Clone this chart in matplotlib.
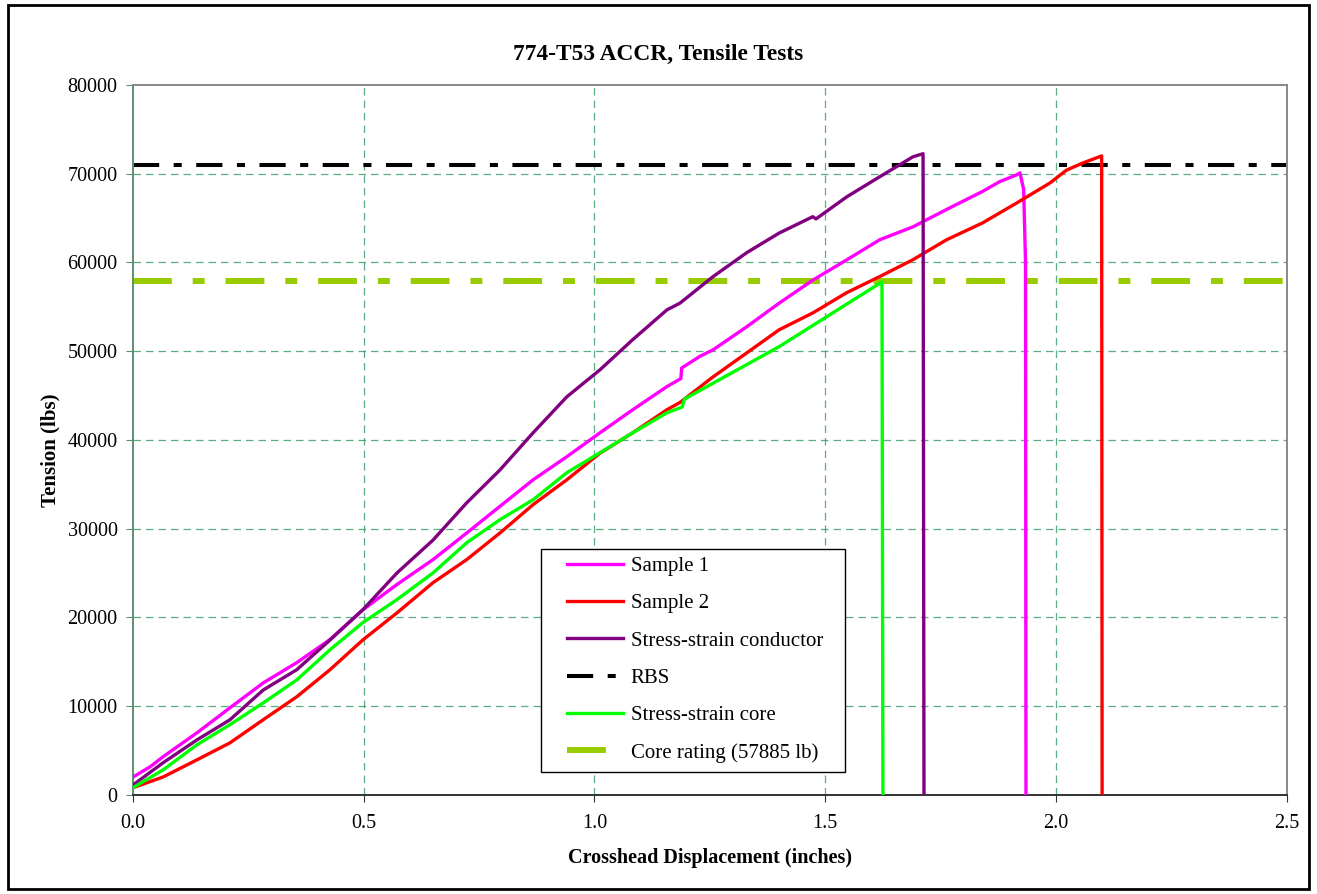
import matplotlib.pyplot as plt
from matplotlib.patches import Rectangle

plt.rcParams['font.family'] = ['Liberation Serif', 'DejaVu Serif']

# Sample 1 (magenta)
s1_x = [0.0, 0.037, 0.065, 0.139, 0.21, 0.282, 0.355, 0.427, 0.498, 0.572, 0.65,
        0.723, 0.795, 0.867, 0.94, 1.012, 1.083, 1.157, 1.187, 1.189, 1.228, 1.257,
        1.33, 1.40, 1.473, 1.547, 1.618, 1.69, 1.727, 1.77, 1.841, 1.878, 1.915,
        1.922, 1.93, 1.934, 1.935]
s1_y = [2000, 3150, 4280, 7000, 9800, 12600, 14900, 17500, 20850, 23700, 26500,
        29500, 32500, 35500, 38100, 40800, 43400, 46000, 46900, 48100, 49400, 50150,
        52750, 55400, 58000, 60300, 62550, 64000, 65000, 66150, 68000, 69100, 69870,
        70100, 68200, 60000, 0]

# Sample 2 (red)
s2_x = [0.0, 0.065, 0.139, 0.21, 0.282, 0.355, 0.427, 0.498, 0.572, 0.65, 0.723,
        0.795, 0.867, 0.94, 1.012, 1.083, 1.157, 1.185, 1.257, 1.33, 1.40, 1.473,
        1.547, 1.618, 1.69, 1.763, 1.841, 1.915, 1.987, 2.023, 2.058, 2.099, 2.1]
s2_y = [800, 2000, 3950, 5850, 8450, 11050, 14100, 17450, 20500, 23900, 26500,
        29500, 32700, 35500, 38500, 40800, 43400, 44200, 47100, 49800, 52400, 54300,
        56600, 58400, 60300, 62550, 64450, 66700, 68950, 70400, 71200, 72000, 0]

# Stress-strain conductor (purple)
sc_x = [0.0, 0.065, 0.139, 0.21, 0.282, 0.355, 0.427, 0.498, 0.572, 0.65, 0.723,
        0.795, 0.867, 0.94, 1.012, 1.083, 1.157, 1.185, 1.257, 1.33, 1.40, 1.473,
        1.48, 1.547, 1.618, 1.655, 1.69, 1.712, 1.714]
sc_y = [1100, 3600, 6200, 8450, 11800, 14100, 17450, 20850, 25000, 28700, 32900,
        36600, 40800, 44850, 47900, 51300, 54650, 55400, 58400, 61100, 63300, 65150,
        64900, 67400, 69650, 70800, 71900, 72250, 0]

# Stress-strain core (green)
core_x = [0.0, 0.065, 0.139, 0.21, 0.282, 0.355, 0.427, 0.498, 0.572, 0.65, 0.723,
          0.795, 0.867, 0.94, 1.012, 1.083, 1.157, 1.19, 1.195, 1.40, 1.623, 1.625]
core_y = [800, 2800, 5650, 7900, 10350, 12950, 16350, 19400, 22000, 25000, 28400,
          31000, 33250, 36300, 38550, 40800, 43050, 43700, 44600, 50500, 57800, 0]

rbs = 71000
core_rating = 57885

fig = plt.figure(figsize=(13.17, 8.94), dpi=100)
ax = fig.add_axes([0.101, 0.111, 0.876, 0.794])

grid_c = '#339966'
for v in [10000, 20000, 30000, 40000, 50000, 60000, 70000]:
    ax.axhline(v, color=grid_c, lw=0.9, ls=(0, (6, 4)), alpha=0.8, zorder=1)
for v in [0.5, 1.0, 1.5, 2.0]:
    ax.axvline(v, color=grid_c, lw=0.9, ls=(0, (6, 4)), alpha=0.8, zorder=1)

ax.plot(s1_x, s1_y, color='#ff00ff', lw=2.4, label='Sample 1', zorder=3)
ax.plot(s2_x, s2_y, color='#ff0000', lw=2.4, label='Sample 2', zorder=3)
ax.plot(sc_x, sc_y, color='#800080', lw=2.4, label='Stress-strain conductor', zorder=3)
ax.axhline(rbs, color='black', lw=2.9, ls=(0, (6.5, 3.6, 2, 3.6)), label='RBS', zorder=2)
ax.plot(core_x, core_y, color='#00ff00', lw=2.4, label='Stress-strain core', zorder=3)
ax.axhline(core_rating, color='#99cc00', lw=4.3, ls=(0, (6.5, 3.5, 2, 3.5)),
           label='Core rating (57885 lb)', zorder=2)

ax.set_xlim(0, 2.5)
ax.set_ylim(0, 80000)
ax.set_xticks([0.0, 0.5, 1.0, 1.5, 2.0, 2.5])
ax.set_xticklabels(['0.0', '0.5', '1.0', '1.5', '2.0', '2.5'])
ax.set_yticks(range(0, 80001, 10000))
ax.tick_params(axis='both', direction='out', length=5, labelsize=14.5, pad=6)
ax.tick_params(axis='y', colors='#5e8f73', labelcolor='black')
ax.tick_params(axis='x', colors='#333333', labelcolor='black', pad=9)

ax.spines['left'].set_color('#5e8f73')
ax.spines['top'].set_color('#888888')
ax.spines['right'].set_color('#888888')
ax.spines['bottom'].set_color('#333333')
for s in ax.spines.values():
    s.set_linewidth(1.4)

# title is centred on the whole figure, not the axes
fig.suptitle('774-T53 ACCR, Tensile Tests', fontsize=16.8, fontweight='bold',
             x=0.5, y=0.939, va='center')
ax.set_xlabel('Crosshead Displacement (inches)', fontsize=14.5, fontweight='bold', labelpad=11)
ax.set_ylabel('Tension (lbs)', fontsize=15, fontweight='bold')
ax.yaxis.set_label_coords(-0.0625, 0.486)

# legend drawn without its own frame; box drawn separately
leg = ax.legend(loc='lower left', bbox_to_anchor=(0.3683, 0.032), fontsize=15,
                handlelength=2.65, labelspacing=0.85, borderpad=0.45,
                handletextpad=0.4, frameon=False, borderaxespad=0)
ax.add_patch(Rectangle((0.354, 0.032), 0.2634, 0.314, transform=ax.transAxes,
                       facecolor='white', edgecolor='black', lw=1.0, zorder=4))
leg.set_zorder(5)

fig.patches.append(Rectangle((0.006, 0.006), 0.988, 0.988, transform=fig.transFigure,
                             fill=False, edgecolor='black', lw=2))

fig.savefig('out.png', dpi=100)
